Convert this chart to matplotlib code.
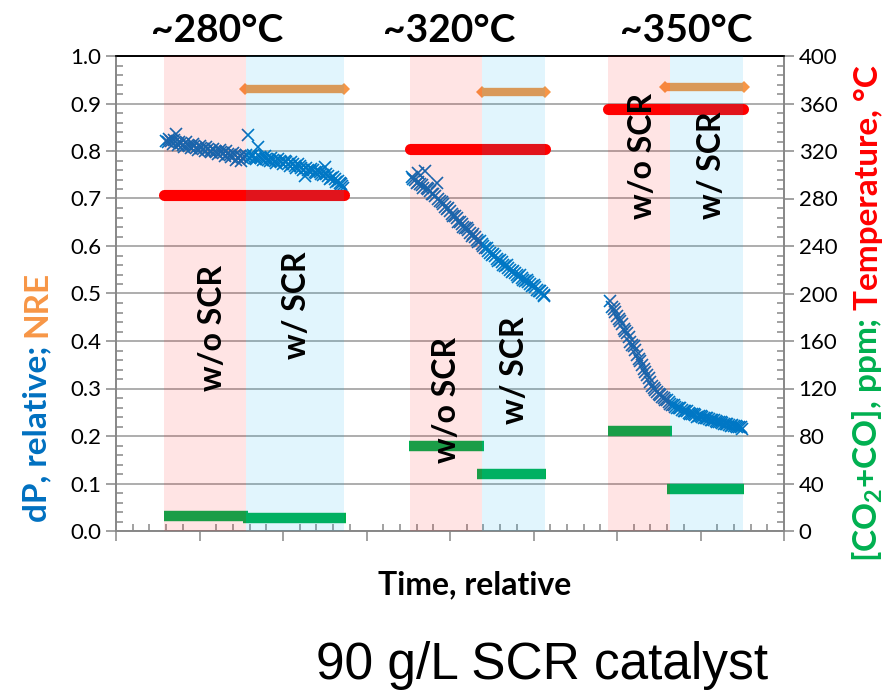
import numpy as np
import matplotlib
matplotlib.use("Agg")
import matplotlib.pyplot as plt
from matplotlib.ticker import MultipleLocator

plt.rcParams['font.family'] = ['Lato', 'DejaVu Sans']
plt.rcParams['mathtext.fontset'] = 'custom'
plt.rcParams['mathtext.rm'] = 'Lato'
plt.rcParams['mathtext.bf'] = 'Lato:bold'

# dP, relative (left axis) - three temperature runs
dp1_t = [0.60, 0.64, 0.68, 0.72, 0.76, 0.80, 0.84, 0.88, 0.92, 0.96, 1.00, 1.04, 1.08, 1.12,
         1.16, 1.20, 1.24, 1.28, 1.32, 1.36, 1.40, 1.44, 1.48, 1.52, 1.56, 1.58, 1.62, 1.66,
         1.70, 1.74, 1.78, 1.82, 1.86, 1.90, 1.94, 1.98, 2.02, 2.06, 2.10, 2.14, 2.18, 2.22,
         2.26, 2.30, 2.34, 2.38, 2.42, 2.46, 2.50, 2.54, 2.58, 2.62, 2.66, 2.70, 2.72]
dp1 = [0.822, 0.826, 0.815, 0.835, 0.818, 0.812, 0.819, 0.810, 0.814, 0.806, 0.811, 0.804,
       0.808, 0.801, 0.805, 0.798, 0.802, 0.795, 0.799, 0.792, 0.796, 0.781, 0.790, 0.786,
       0.792, 0.833, 0.790, 0.786, 0.808, 0.785, 0.789, 0.782, 0.786, 0.778, 0.783, 0.776,
       0.780, 0.772, 0.776, 0.768, 0.772, 0.764, 0.748, 0.760, 0.763, 0.755, 0.758, 0.752,
       0.767, 0.748, 0.744, 0.741, 0.736, 0.730, 0.722]
dp1b_t = [0.62, 0.66, 0.70, 0.74, 0.78, 0.82, 0.86, 0.90, 0.94, 0.98, 1.02, 1.06, 1.10, 1.14,
          1.18, 1.22, 1.26, 1.30, 1.34, 1.38, 1.42, 1.46, 1.50, 1.54, 1.60, 1.64, 1.68, 1.72,
          1.76, 1.80, 1.84, 1.88, 1.92, 1.96, 2.00, 2.04, 2.08, 2.12, 2.16, 2.20, 2.24, 2.28,
          2.32, 2.36, 2.40, 2.44, 2.48, 2.52, 2.56, 2.60, 2.64, 2.68, 2.71]
dp1b = [0.818, 0.821, 0.824, 0.812, 0.816, 0.809, 0.813, 0.807, 0.810, 0.803, 0.807, 0.800,
        0.804, 0.797, 0.801, 0.794, 0.797, 0.790, 0.794, 0.787, 0.791, 0.785, 0.778, 0.788,
        0.786, 0.791, 0.783, 0.787, 0.781, 0.784, 0.778, 0.781, 0.775, 0.779, 0.772, 0.776,
        0.769, 0.772, 0.765, 0.768, 0.761, 0.764, 0.757, 0.760, 0.753, 0.756, 0.749, 0.751,
        0.742, 0.746, 0.735, 0.733, 0.726]

dp2_t = [3.54, 3.58, 3.62, 3.62, 3.66, 3.70, 3.72, 3.76, 3.80, 3.84, 3.86, 3.90, 3.94, 3.98,
         4.02, 4.06, 4.10, 4.14, 4.18, 4.22, 4.26, 4.30, 4.34, 4.38, 4.42, 4.46, 4.50, 4.54,
         4.58, 4.62, 4.66, 4.70, 4.74, 4.78, 4.82, 4.86, 4.90, 4.94, 4.98, 5.02, 5.06, 5.10, 5.13]
dp2 = [0.745, 0.738, 0.754, 0.735, 0.728, 0.757, 0.722, 0.715, 0.709, 0.733, 0.700, 0.693,
       0.682, 0.679, 0.668, 0.663, 0.651, 0.647, 0.637, 0.634, 0.622, 0.620, 0.609, 0.605,
       0.596, 0.590, 0.581, 0.578, 0.569, 0.566, 0.557, 0.553, 0.546, 0.543, 0.535, 0.533,
       0.526, 0.524, 0.516, 0.513, 0.505, 0.501, 0.494]
dp2b_t = [3.56, 3.60, 3.64, 3.68, 3.74, 3.78, 3.82, 3.88, 3.92, 3.96, 4.00, 4.04, 4.08, 4.12,
          4.16, 4.20, 4.24, 4.28, 4.32, 4.36, 4.40, 4.44, 4.48, 4.52, 4.56, 4.60, 4.64, 4.68,
          4.72, 4.76, 4.80, 4.84, 4.88, 4.92, 4.96, 5.00, 5.04, 5.08, 5.12]
dp2b = [0.741, 0.733, 0.731, 0.722, 0.719, 0.709, 0.706, 0.694, 0.689, 0.678, 0.674, 0.664,
        0.659, 0.650, 0.641, 0.638, 0.627, 0.625, 0.613, 0.611, 0.599, 0.595, 0.585, 0.583,
        0.572, 0.571, 0.561, 0.559, 0.549, 0.548, 0.538, 0.538, 0.529, 0.528, 0.519, 0.518,
        0.508, 0.506, 0.497]

dp3_t = [5.92, 5.94, 5.98, 6.02, 6.06, 6.10, 6.14, 6.18, 6.22, 6.26, 6.30, 6.34, 6.38, 6.42,
         6.46, 6.50, 6.54, 6.58, 6.62, 6.66, 6.70, 6.74, 6.78, 6.82, 6.86, 6.90, 6.94, 6.98,
         7.02, 7.06, 7.10, 7.14, 7.18, 7.22, 7.26, 7.30, 7.34, 7.38, 7.42, 7.46, 7.50]
dp3 = [0.485, 0.472, 0.462, 0.447, 0.435, 0.421, 0.409, 0.392, 0.381, 0.362, 0.350, 0.334,
       0.322, 0.306, 0.297, 0.289, 0.283, 0.276, 0.272, 0.266, 0.262, 0.259, 0.255, 0.253,
       0.249, 0.247, 0.244, 0.243, 0.240, 0.238, 0.235, 0.234, 0.231, 0.230, 0.228, 0.226,
       0.224, 0.223, 0.221, 0.219, 0.215]
dp3b_t = [5.96, 6.00, 6.04, 6.08, 6.12, 6.16, 6.20, 6.24, 6.28, 6.32, 6.36, 6.40, 6.44, 6.48,
          6.52, 6.56, 6.60, 6.64, 6.68, 6.72, 6.76, 6.80, 6.84, 6.88, 6.92, 6.96, 7.00, 7.04,
          7.08, 7.12, 7.16, 7.20, 7.24, 7.28, 7.32, 7.36, 7.40, 7.44, 7.48]
dp3b = [0.468, 0.452, 0.443, 0.426, 0.416, 0.398, 0.389, 0.370, 0.357, 0.342, 0.329, 0.313,
        0.302, 0.292, 0.287, 0.279, 0.275, 0.268, 0.265, 0.259, 0.258, 0.252, 0.252, 0.246,
        0.246, 0.241, 0.242, 0.237, 0.237, 0.233, 0.233, 0.229, 0.229, 0.225, 0.225, 0.221,
        0.222, 0.218, 0.218]

# run windows: (w/o SCR start, switch to w/ SCR, end)
windows = [(0.58, 1.56, 2.73), (3.52, 4.38, 5.14), (5.89, 6.64, 7.51)]
run_titles = ['~280°C', '~320°C', '~350°C']

# NRE (left axis), only with SCR
nre_t = [(1.54, 2.73), (4.38, 5.14), (6.58, 7.52)]
nre = [0.93, 0.925, 0.935]

# temperature, degC (right axis)
temp = [283, 322, 355]

# [CO2+CO], ppm (right axis): w/o SCR, w/ SCR
co_wo_t = [(0.58, 1.58), (3.51, 4.41), (5.89, 6.66)]
co_wo = [13, 72, 84]
co_w_t = [(1.52, 2.75), (4.32, 5.15), (6.60, 7.52)]
co_w = [11, 48, 35]

BLUE = '#0070c0'
ORANGE = '#f79646'
RED = '#ff0000'
GREEN = '#00b050'

fig = plt.figure(figsize=(8.96, 6.97), dpi=100)
ax = fig.add_axes([116/896, 1-531/697, 668/896, 475/697])
ax2 = ax.twinx()

for t, v in [(dp1_t, dp1), (dp1b_t, dp1b), (dp2_t, dp2), (dp2b_t, dp2b),
             (dp3_t, dp3), (dp3b_t, dp3b)]:
    ax.plot(t, v, ls='none', marker='x', ms=9, mew=1.2, color=BLUE)

for (a, b), v in zip(nre_t, nre):
    ax.plot([a, b], [v, v], color=ORANGE, lw=6, solid_capstyle='butt')
    ax.plot([a, b], [v, v], ls='none', marker='D', ms=6, color=ORANGE, mew=0)

for (s, m, e), v in zip(windows, temp):
    ax2.plot([s, e], [v, v], color=RED, lw=8, solid_capstyle='round')

for (a, b), v in zip(co_wo_t, co_wo):
    ax2.plot([a, b], [v, v], color=GREEN, lw=7.5, solid_capstyle='butt')
for (a, b), v in zip(co_w_t, co_w):
    ax2.plot([a, b], [v, v], color=GREEN, lw=7.5, solid_capstyle='butt')

# translucent overlays for the two conditions
for s, m, e in windows:
    ax2.axvspan(s, m, color='#ff0000', alpha=0.106, lw=0, zorder=10)
    ax2.axvspan(m, e, color='#00b0f0', alpha=0.118, lw=0, zorder=10)

# rotated condition labels
lab_pos = [(1.16, 0.427, 'w/o SCR'), (2.16, 0.476, 'w/ SCR'),
           (3.96, 0.276, 'w/o SCR'), (4.77, 0.339, 'w/ SCR'),
           (6.31, 0.790, 'w/o SCR'), (7.13, 0.770, 'w/ SCR')]
for x, y, s in lab_pos:
    ax2.text(x, y * 400, s, rotation=90, ha='center', va='center', fontsize=23,
             fontweight='bold', color='black', zorder=11)

ax.set_xlim(0, 8)
ax.set_ylim(0, 1.0)
ax2.set_ylim(0, 400)
ax.xaxis.set_major_locator(MultipleLocator(1))
ax.xaxis.set_minor_locator(MultipleLocator(0.2))
ax.yaxis.set_major_locator(MultipleLocator(0.1))
ax.yaxis.set_minor_locator(MultipleLocator(0.02))
ax2.yaxis.set_major_locator(MultipleLocator(40))
ax2.yaxis.set_minor_locator(MultipleLocator(8))
ax.set_xticklabels([])
ax.yaxis.set_major_formatter(plt.FuncFormatter(lambda v, p: f'{v:.1f}'))

gray = '#878787'
ax.tick_params(axis='both', which='major', direction='out', length=7, width=1.1, color=gray,
               labelsize=16)
ax.tick_params(axis='both', which='minor', direction='in', length=5, width=1.1, color=gray)
ax2.tick_params(axis='y', which='major', direction='out', length=7, width=1.1, color=gray,
                labelsize=16)
ax2.tick_params(axis='y', which='minor', direction='in', length=5, width=1.1, color=gray)
ax.grid(axis='y', which='major', color='#a0a0a0', lw=1.2)
ax.set_axisbelow(True)
for a in (ax, ax2):
    for sp in ['left', 'right', 'bottom']:
        a.spines[sp].set_color(gray)
        a.spines[sp].set_linewidth(1.2)
    a.spines['top'].set_color('black')
    a.spines['top'].set_linewidth(1.2)

for title, cx in zip(run_titles, [217, 449, 686]):
    fig.text(cx/896, 1-30/697, title, ha='center', va='center', fontsize=28,
             fontweight='bold')

# left axis label in two colours
t1 = fig.text(37/896, 1-522/697, 'dP, relative;', rotation=90, ha='center', va='bottom',
              fontsize=24, fontweight='bold', color=BLUE)
ax.annotate('NRE', xy=(0.5, 1), xycoords=t1, xytext=(0, 6), textcoords='offset points',
            ha='center', va='bottom', rotation=90,
            fontsize=24, fontweight='bold', color=ORANGE, annotation_clip=False)

# right axis label in two colours
t2 = fig.text(868/896, 1-562/697, r'[CO$_\mathbf{2}$+CO], ppm;', rotation=90, ha='center',
              va='bottom', fontsize=24, fontweight='bold', color=GREEN)
ax.annotate('Temperature, °C', xy=(0.5, 1), xycoords=t2, xytext=(0, 6),
            textcoords='offset points', ha='center', va='bottom',
            rotation=90, fontsize=24, fontweight='bold', color=RED, annotation_clip=False)

fig.text(475/896, 1-585/697, 'Time, relative', ha='center', va='center', fontsize=23,
         fontweight='bold')
fig.text(542/896, 1-665/697, '90 g/L SCR catalyst', ha='center', va='center', fontsize=37,
         family='Liberation Sans')

fig.savefig('out.png', dpi=100)
